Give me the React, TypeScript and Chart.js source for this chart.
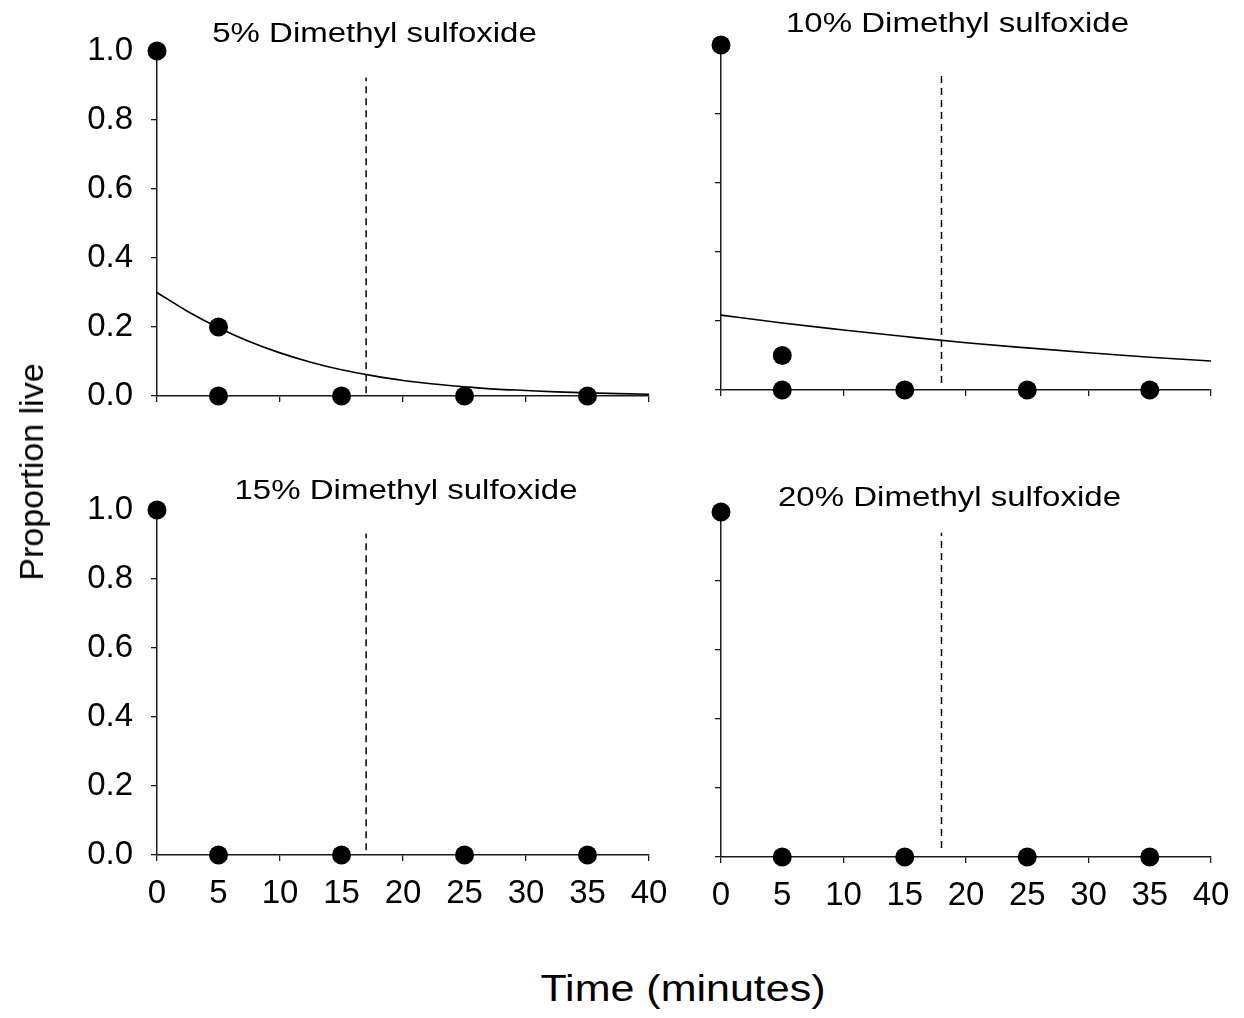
import React, { useEffect, useRef } from "react";
import { Chart, registerables } from "chart.js";

Chart.register(...registerables);

const FONT = '"Liberation Sans", Arial, Helvetica, sans-serif';

// ---- data ----
const panelTitles = [
  "5% Dimethyl sulfoxide",
  "10% Dimethyl sulfoxide",
  "15% Dimethyl sulfoxide",
  "20% Dimethyl sulfoxide",
];
const yAxisTitle = "Proportion live";
const xAxisTitle = "Time (minutes)";

// observed points
const p5Time = [0, 5, 5, 15, 25, 35];
const p5Live = [1.0, 0.2, 0, 0, 0, 0];
const p10Time = [0, 5, 5, 15, 25, 35];
const p10Live = [1.0, 0.1, 0, 0, 0, 0];
const p15Time = [0, 5, 15, 25, 35];
const p15Live = [1.0, 0, 0, 0, 0];
const p20Time = [0, 5, 15, 25, 35];
const p20Live = [1.0, 0, 0, 0, 0];

// fitted curves
const fit5Time = [0, 2.5, 5, 7.5, 10, 12.5, 15, 17.5, 20, 22.5, 25, 27.5, 30, 32.5, 35, 37.5, 40];
const fit5Live = [0.3, 0.245, 0.198, 0.158, 0.125, 0.098, 0.076, 0.059, 0.045, 0.035, 0.027, 0.02, 0.016, 0.012, 0.009, 0.007, 0.005];
const fit10Time = [0, 5, 10, 15, 20, 25, 30, 35, 40];
const fit10Live = [0.217, 0.194, 0.174, 0.155, 0.137, 0.122, 0.108, 0.095, 0.084];

// dashed cut-off lines per panel
const cutoffTime = [17, 18, 17, 18];
const cutoffLow = [0.008, 0.02, 0.014, 0.026];
const cutoffHigh = [0.923, 0.923, 0.932, 0.94];

// axis ticks
const xMin = 0;
const xMax = 40;
const xStep = 5;
const xMajorStep = 10;
const yMin = 0;
const yMax = 1;
const yStep = 0.2;

const pointTimes = [p5Time, p10Time, p15Time, p20Time];
const pointLives = [p5Live, p10Live, p15Live, p20Live];
const fitTimes = [fit5Time, fit10Time, null, null];
const fitLives = [fit5Live, fit10Live, null, null];

// ---- layout ----
type PanelLayout = {
  left: number;
  top: number;
  w: number;
  h: number;
  area: { l: number; t: number; r: number; b: number };
  showX: boolean;
  showY: boolean;
  titleX: number;
  titleY: number;
};

const layouts: PanelLayout[] = [
  { left: 0, top: 0, w: 690, h: 460, area: { l: 157, t: 51, r: 649, b: 396 }, showX: false, showY: true, titleX: 374.5, titleY: 42 },
  { left: 690, top: 0, w: 554, h: 460, area: { l: 31, t: 45, r: 521, b: 390 }, showX: false, showY: false, titleX: 267.5, titleY: 32 },
  { left: 0, top: 460, w: 690, h: 480, area: { l: 157, t: 50, r: 649, b: 395 }, showX: true, showY: true, titleX: 406, titleY: 39 },
  { left: 690, top: 460, w: 554, h: 480, area: { l: 31, t: 52, r: 521, b: 397 }, showX: true, showY: false, titleX: 259.5, titleY: 46 },
];

const AXIS_COLOR = "#1a1a1a";
const TICK_FONT = 33;
const TITLE_FONT = 33;
const TITLE_SQUASH = 0.86;

function Panel({ idx }: { idx: number }) {
  const ref = useRef<HTMLCanvasElement | null>(null);
  const L = layouts[idx];

  useEffect(() => {
    if (!ref.current) return;
    const xH = L.showX ? 60 : 20;
    const datasets: any[] = [];

    const ft = fitTimes[idx];
    const fl = fitLives[idx];
    if (ft && fl) {
      datasets.push({
        data: ft.map((x, i) => ({ x, y: fl[i] })),
        showLine: true,
        borderColor: "#000",
        borderWidth: 1.6,
        pointRadius: 0,
        cubicInterpolationMode: "monotone",
        clip: false,
      });
    }
    datasets.push({
      data: [
        { x: cutoffTime[idx], y: cutoffLow[idx] },
        { x: cutoffTime[idx], y: cutoffHigh[idx] },
      ],
      showLine: true,
      borderColor: "#000",
      borderWidth: 1.5,
      borderDash: [7, 5],
      pointRadius: 0,
    });
    datasets.push({
      data: pointTimes[idx].map((x, i) => ({ x, y: pointLives[idx][i] })),
      showLine: false,
      pointRadius: 9.5,
      pointBackgroundColor: "#000",
      pointBorderColor: "#000",
      pointBorderWidth: 0,
      clip: false,
    });

    const title = panelTitles[idx];
    const titlePlugin = {
      id: "panelTitle" + idx,
      afterDraw(chart: any) {
        const c = chart.ctx;
        c.save();
        c.translate(L.titleX, L.titleY);
        c.scale(1, TITLE_SQUASH);
        c.font = `${TITLE_FONT}px ${FONT}`;
        c.fillStyle = "#000";
        c.textAlign = "center";
        c.textBaseline = "alphabetic";
        c.fillText(title, 0, 0);
        c.restore();
      },
    };

    const chart = new Chart(ref.current, {
      type: "scatter",
      data: { datasets },
      options: {
        animation: false,
        responsive: false,
        devicePixelRatio: 1,
        events: [],
        layout: {
          padding: {
            left: 0,
            top: L.area.t,
            right: L.w - L.area.r,
            bottom: L.h - L.area.b - xH,
          },
        },
        plugins: {
          legend: { display: false },
          tooltip: { enabled: false },
          title: { display: false },
        },
        scales: {
          x: {
            type: "linear",
            min: xMin,
            max: xMax,
            afterFit: (s: any) => {
              s.height = xH;
            },
            border: { display: true, color: AXIS_COLOR, width: 1.5 },
            grid: {
              display: true,
              drawOnChartArea: false,
              drawTicks: true,
              tickLength: 6,
              lineWidth: 1.3,
              color: AXIS_COLOR,
              tickColor: (ctx: any) =>
                ctx.tick && Math.abs(ctx.tick.value % xMajorStep) < 1e-9 ? AXIS_COLOR : "rgba(0,0,0,0)",
            },
            ticks: {
              stepSize: xStep,
              autoSkip: false,
              maxRotation: 0,
              padding: 13,
              color: "#000",
              font: { family: FONT, size: TICK_FONT },
              callback: (v: any) => (L.showX ? String(v) : ""),
            },
          },
          y: {
            type: "linear",
            min: yMin,
            max: yMax,
            afterFit: (s: any) => {
              s.width = L.area.l;
            },
            border: { display: true, color: AXIS_COLOR, width: 1.5 },
            grid: {
              display: true,
              drawOnChartArea: false,
              drawTicks: true,
              tickLength: 6,
              lineWidth: 1.3,
              color: AXIS_COLOR,
            },
            ticks: {
              stepSize: yStep,
              padding: 18,
              color: "#000",
              font: { family: FONT, size: TICK_FONT },
              callback: (v: any) => (L.showY ? Number(v).toFixed(1) : ""),
            },
          },
        },
      } as any,
      plugins: [titlePlugin],
    });
    return () => chart.destroy();
  }, [idx]);

  return (
    <canvas
      ref={ref}
      width={L.w}
      height={L.h}
      style={{ position: "absolute", left: L.left, top: L.top, width: L.w, height: L.h }}
    />
  );
}

export default function App() {
  return (
    <div
      style={{
        position: "absolute",
        left: 0,
        top: 0,
        width: 1244,
        height: 1018,
        background: "#fff",
        overflow: "hidden",
        fontFamily: FONT,
      }}
    >
      {layouts.map((_, i) => (
        <Panel key={i} idx={i} />
      ))}
      <div
        style={{
          position: "absolute",
          left: 31,
          top: 472,
          transform: "translate(-50%, -50%) rotate(-90deg)",
          whiteSpace: "nowrap",
          fontSize: 34,
          color: "#000",
          lineHeight: 1,
        }}
      >
        {yAxisTitle}
      </div>
      <div
        style={{
          position: "absolute",
          left: 683,
          top: 989,
          transform: "translate(-50%, -50%) scale(1, 0.86)",
          whiteSpace: "nowrap",
          fontSize: 43,
          color: "#000",
          lineHeight: 1,
        }}
      >
        {xAxisTitle}
      </div>
    </div>
  );
}
